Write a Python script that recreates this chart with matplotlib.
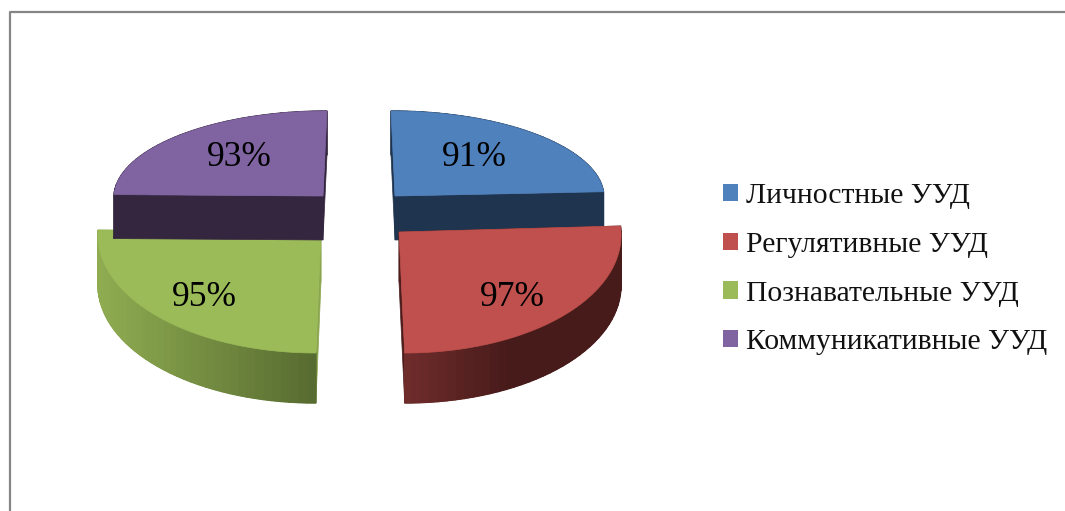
# === DATA ===
names = ["Личностные УУД", "Регулятивные УУД", "Познавательные УУД", "Коммуникативные УУД"]
values = [91, 97, 95, 93]

# === CODE ===
import numpy as np
import matplotlib
matplotlib.use("Agg")
import matplotlib.pyplot as plt
from matplotlib.patches import Patch
from matplotlib.colors import to_rgb

plt.rcParams["font.family"] = ["Liberation Serif", "DejaVu Serif"]

colors = ["#4F81BD", "#C0504D", "#9BBB59", "#8064A2"]
cut_colors = ["#1F344F", "#4C1D1C", "#8AA64E", "#35263F"]
side_left = ["#1F344F", "#6E2C2B", "#8FAC51", "#35263F"]
side_right = ["#1F344F", "#471B1A", "#55692F", "#35263F"]

# layout per slice, in pixels: centre x, centre y, radius x, radius y, depth, lean
layout = [
    (395, 196, 209, 85, 44, 0.047),
    (399, 232, 222, 121, 50, 0.047),
    (321, 232, 223, 121, 50, -0.042),
    (323, 196, 209, 85, 44, -0.047),
]
label_pos = [(474, 157), (512, 297), (204, 297), (239, 158)]
draw_order = [3, 0, 2, 1]

fig = plt.figure(figsize=(10.65, 5.11), dpi=100)
ax = fig.add_axes([0, 0, 1, 1])
ax.set_xlim(0, 1065)
ax.set_ylim(511, 0)
ax.axis("off")

# chart frame, only left and top are in the crop
ax.plot([10, 10, 1065], [511, 12, 12], color="#868686", linewidth=1.6)

edges = 90 - np.cumsum([0] + values) / sum(values) * 360


def point(i, deg):
    cx, cy, rx, ry, depth, lean = layout[i]
    t = np.radians(deg)
    dy = -ry * np.sin(t)
    return cx + rx * np.cos(t) + lean * dy, cy + dy


for i in draw_order:
    cx, cy, rx, ry, depth, lean = layout[i]
    ang = np.linspace(edges[i], edges[i + 1], 120)
    xs, ys = point(i, ang)

    # cut faces
    for k in (0, -1):
        ax.fill([cx, xs[k], xs[k], cx], [cy, ys[k], ys[k] + depth, cy + depth],
                color=cut_colors[i], linewidth=0.5, zorder=2 + i)

    # outer wall with a left to right shade, one solid band behind to avoid stripes
    c0, c1 = np.array(to_rgb(side_left[i])), np.array(to_rgb(side_right[i]))
    ax.fill(np.r_[xs, xs[::-1]], np.r_[ys, ys[::-1] + depth],
            color=(c0 + c1) / 2, linewidth=0.5, zorder=2 + i)
    for a in range(0, len(ang) - 1, 3):
        b = min(a + 3, len(ang) - 1)
        f = (min(xs[a], xs[b]) - xs.min()) / (xs.max() - xs.min())
        if i == 1:
            f = min(1, f * 2.2)
        ax.fill([xs[a], xs[b], xs[b], xs[a]],
                [ys[a], ys[b], ys[b] + depth, ys[a] + depth],
                facecolor=c0 + (c1 - c0) * f, edgecolor=c0 + (c1 - c0) * f,
                linewidth=1.0, zorder=2 + i)

    # top face
    ax.fill(np.r_[cx, xs], np.r_[cy, ys], color=colors[i], linewidth=0.5, zorder=2 + i)

for i, (x, y) in enumerate(label_pos):
    ax.text(x, y, f"{values[i]}%", fontsize=25.5, color="black",
            ha="center", va="center", zorder=20)

handles = [Patch(facecolor=c, edgecolor="none") for c in colors]
ax.legend(handles, names, loc="upper left", bbox_to_anchor=(723, 183),
          bbox_transform=ax.transData, frameon=False, fontsize=21.3,
          borderpad=0, borderaxespad=0, handlelength=0.52, handleheight=0.52,
          handletextpad=0.25, labelspacing=0.77, labelcolor="#111111")

plt.savefig("out.png", dpi=100)
print("Saved out.png")
